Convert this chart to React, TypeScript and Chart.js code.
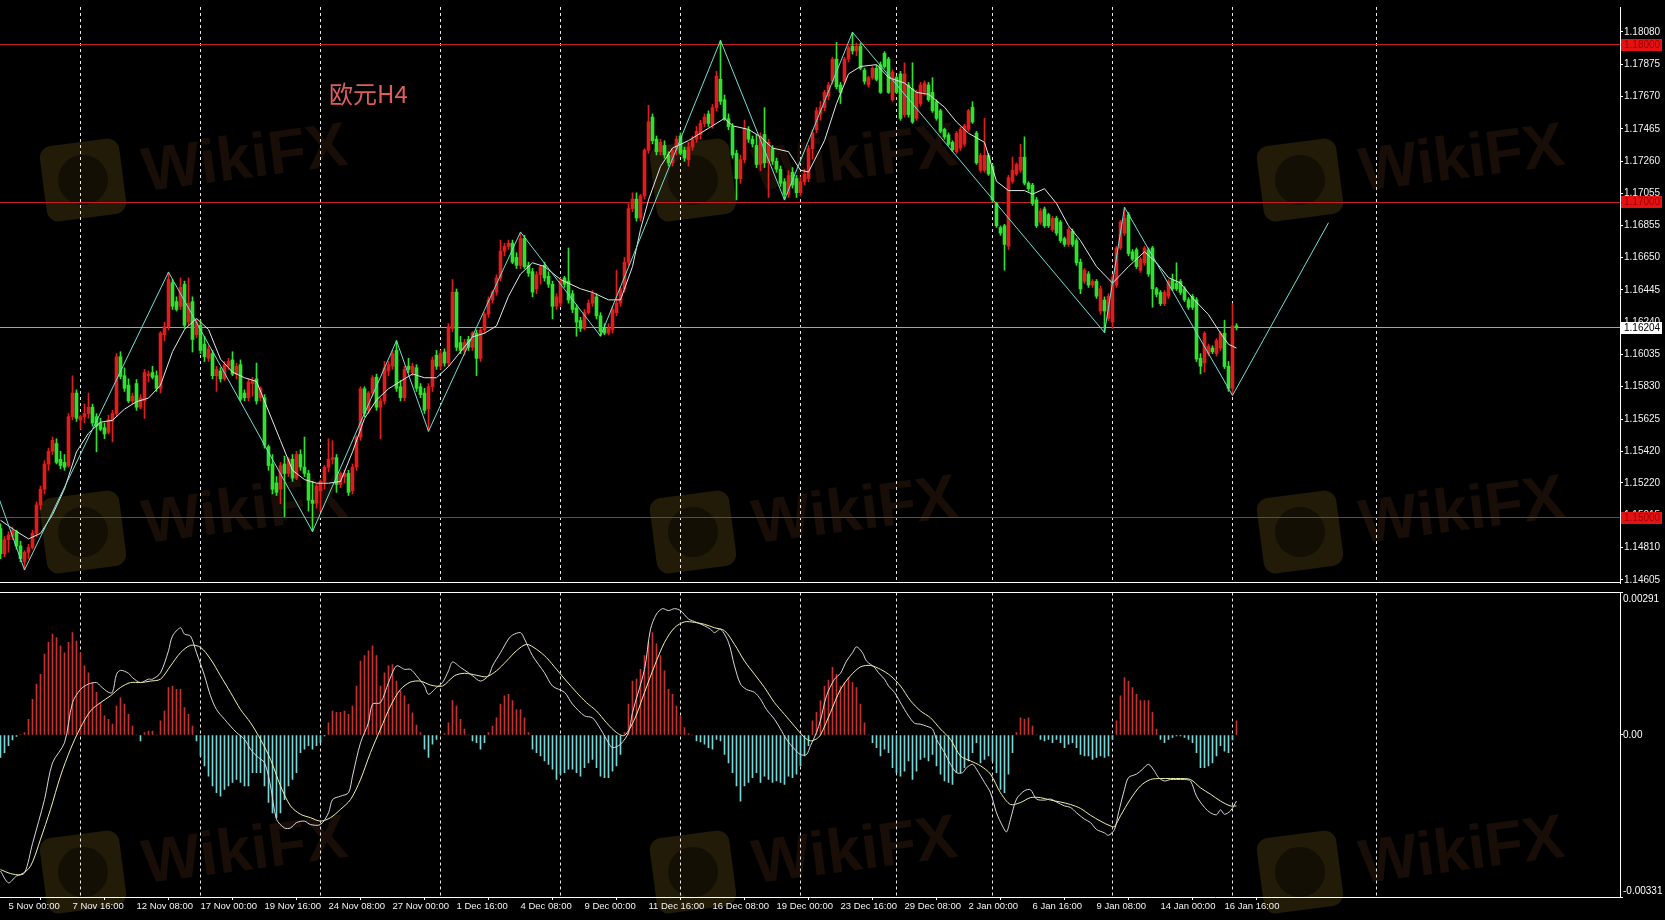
import React, { useEffect, useRef } from "react";
import { Chart, registerables } from "chart.js";

Chart.register(...registerables);

// ---------- DATA ----------
// bar index 0 = 5 Nov 00:00 (H4 bars), first candle drawn is bar -2
const FIRST_BAR = -2;

// prices are written as 1e-5 above 1.00000  (e.g. 14930 -> 1.14930)
// [open, high, low, close]
const candles: number[][] = [
  [14930,14960,14740,14770],[14770,14880,14750,14860],[14860,14910,14780,14890],[14880,14940,14860,14920],[14910,14920,14800,14820],
  [14820,14850,14720,14740],[14720,14790,14668,14780],[14780,14830,14740,14810],[14810,14920,14800,14900],[14900,15100,14880,15080],
  [15080,15200,15050,15180],[15180,15360,15150,15340],[15340,15440,15300,15420],[15420,15511,15400,15490],[15470,15500,15340,15350],
  [15370,15420,15310,15330],[15350,15400,15300,15320],[15330,15660,15320,15640],[15640,15899,15620,15790],[15790,15810,15610,15630],
  [15620,15650,15560,15640],[15640,15720,15600,15660],[15660,15790,15630,15700],[15700,15720,15580,15600],[15640,15660,15417,15580],
  [15600,15630,15550,15560],[15570,15600,15500,15530],[15540,15650,15530,15620],[15610,15680,15480,15660],[15660,16040,15640,16020],
  [16020,16052,15880,15895],[15900,15950,15800,15820],[15840,15880,15730,15740],[15740,15790,15720,15770],[15850,15876,15680,15700],
  [15700,15780,15690,15760],[15740,15940,15629,15920],[15900,15930,15860,15910],[15920,15960,15880,15890],[15900,15930,15800,15820],
  [15820,16180,15790,16170],[16160,16240,16120,16210],[16210,16557,16190,16510],[16490,16510,16320,16340],[16370,16400,16310,16320],
  [16340,16520,16320,16460],[16480,16500,16200,16220],[16240,16520,16220,16360],[16370,16400,16050,16130],[16160,16260,16140,16240],
  [16220,16250,16040,16060],[16100,16150,15990,16020],[16010,16090,15990,16070],[16040,16060,15880,15900],[15900,15960,15800,15940],
  [15930,15950,15860,15880],[15880,15990,15870,15970],[15960,16010,15940,15990],[16000,16052,15900,15910],[15910,15980,15880,15960],
  [15970,16000,15740,15750],[15790,15810,15740,15760],[15760,15880,15740,15860],[15850,15890,15770,15870],[15880,15980,15720,15740],
  [15760,15830,15740,15820],[15760,15780,15440,15460],[15450,15460,15300,15330],[15340,15400,15150,15180],[15220,15260,15140,15160],
  [15180,15350,15088,15330],[15340,15390,15006,15280],[15280,15380,15260,15370],[15370,15400,15230,15250],[15250,15420,15240,15400],
  [15400,15430,15300,15320],[15320,15511,15260,15280],[15280,15300,15041,15110],[15110,15230,14912,15090],[15090,15210,15060,15200],
  [15170,15240,15041,15230],[15230,15330,15180,15320],[15320,15500,15290,15370],[15370,15488,15340,15380],[15380,15400,15160,15210],
  [15210,15290,15190,15280],[15260,15300,15220,15280],[15280,15300,15140,15160],[15170,15340,15150,15320],[15320,15520,15300,15510],
  [15510,15830,15490,15817],[15817,15830,15640,15660],[15680,15800,15660,15790],[15790,15900,15770,15887],[15890,15910,15680,15700],
  [15700,15760,15500,15740],[15740,15990,15720,15950],[15930,15990,15900,15970],[15960,16060,15940,16040],[16060,16122,15800,15820],
  [15830,15870,15740,15760],[15760,15960,15740,15940],[15960,16010,15920,15940],[15920,15980,15900,15960],[15950,15970,15800,15820],
  [15830,15850,15760,15780],[15790,15820,15660,15680],[15690,15850,15547,15830],[15830,16020,15800,16000],[16030,16060,15940,15960],
  [15960,16060,15940,16040],[16050,16070,15960,15980],[15980,16230,15960,16210],[16200,16510,16180,16430],[16430,16450,16060,16080],
  [16110,16150,16040,16060],[16060,16130,16030,16110],[16130,16150,16060,16080],[16080,16180,16060,16170],[16170,16190,15900,16010],
  [16010,16200,15990,16190],[16190,16300,16170,16290],[16290,16400,16270,16380],[16380,16440,16360,16430],[16430,16540,16410,16520],
  [16520,16760,16500,16690],[16690,16740,16660,16720],[16720,16760,16700,16740],[16740,16760,16610,16620],[16650,16680,16580,16600],
  [16600,16811,16580,16770],[16770,16790,16580,16590],[16600,16620,16530,16550],[16560,16580,16400,16430],[16450,16560,16420,16540],
  [16540,16600,16480,16590],[16600,16620,16500,16520],[16530,16560,16460,16480],[16480,16500,16260,16340],[16340,16420,16320,16400],
  [16360,16520,16340,16500],[16520,16530,16460,16480],[16500,16710,16360,16380],[16420,16440,16300,16320],[16330,16350,16150,16240],
  [16250,16270,16180,16200],[16200,16320,16190,16300],[16300,16380,16290,16360],[16360,16440,16340,16420],[16400,16420,16260,16280],
  [16280,16300,16151,16180],[16200,16230,16160,16170],[16170,16230,16160,16200],[16190,16340,16170,16320],[16300,16569,16280,16360],
  [16360,16460,16340,16450],[16450,16650,16430,16620],[16620,16990,16600,16960],[16960,17060,16940,17020],[17020,17060,16880,16900],
  [16900,17050,16880,17040],[17040,17340,17020,17330],[17330,17615,17310,17510],[17540,17560,17370,17390],[17400,17420,17300,17320],
  [17320,17400,17300,17380],[17360,17390,17280,17300],[17300,17320,17230,17250],[17250,17340,17230,17330],[17330,17420,17300,17400],
  [17420,17440,17300,17310],[17330,17350,17260,17280],[17270,17380,17230,17350],[17350,17420,17330,17400],[17400,17480,17380,17450],
  [17430,17520,17400,17500],[17500,17560,17480,17540],[17560,17580,17480,17500],[17490,17620,17470,17600],[17600,17830,17580,17800],
  [17780,18026,17620,17640],[17650,17680,17520,17530],[17530,17560,17460,17480],[17480,17500,17280,17300],[17310,17330,17015,17150],
  [17150,17300,17120,17270],[17270,17520,17250,17470],[17460,17480,17380,17400],[17400,17420,17350,17370],[17360,17430,17220,17240],
  [17240,17440,17200,17420],[17430,17600,17220,17250],[17250,17400,17030,17380],[17340,17360,17240,17260],[17260,17280,17190,17210],
  [17210,17230,17100,17120],[17130,17150,17015,17050],[17050,17200,17030,17170],[17190,17220,17090,17110],[17150,17170,17030,17060],
  [17060,17160,17040,17130],[17130,17210,17110,17180],[17150,17360,17130,17340],[17340,17460,17274,17440],[17460,17600,17440,17580],
  [17560,17640,17520,17600],[17600,17710,17580,17697],[17673,17760,17650,17744],[17767,17920,17750,17908],[17908,18014,17720,17732],
  [17744,17760,17626,17697],[17767,17920,17750,17908],[17908,17990,17890,17979],[17990,18078,17940,17960],[17960,18010,17930,17990],
  [17990,18010,17840,17850],[17838,17850,17750,17767],[17744,17800,17730,17791],[17791,17860,17780,17850],[17850,17870,17770,17779],
  [17873,17890,17690,17697],[17944,17955,17850,17861],[17908,17920,17690,17697],[17650,17840,17640,17826],[17791,17800,17690,17697],
  [17814,17830,17520,17532],[17556,17885,17540,17814],[17744,17760,17540,17556],[17720,17885,17500,17509],[17532,17710,17520,17697],
  [17626,17760,17610,17744],[17697,17770,17680,17756],[17744,17760,17640,17650],[17697,17790,17570,17580],[17638,17650,17520,17532],
  [17580,17590,17440,17450],[17462,17470,17400,17415],[17427,17440,17360,17368],[17380,17390,17320,17333],[17321,17450,17310,17438],
  [17344,17475,17330,17462],[17368,17495,17355,17485],[17462,17590,17450,17580],[17603,17638,17500,17509],[17438,17450,17240,17250],
  [17203,17310,17190,17297],[17203,17532,17190,17297],[17297,17310,17170,17180],[17227,17240,17000,17015],[16992,17000,16840,16851],
  [16839,16850,16790,16804],[16851,16860,16569,16733],[16722,17170,16700,17156],[17133,17286,17120,17203],[17180,17250,17170,17239],
  [17203,17368,17190,17286],[17286,17415,17110,17121],[17121,17130,17070,17086],[17109,17120,16980,16992],[17015,17030,16840,16851],
  [16874,16960,16860,16945],[16957,16970,16840,16851],[16921,16930,16840,16851],[16827,16910,16815,16898],[16898,16910,16790,16804],
  [16874,16885,16745,16757],[16769,16780,16720,16733],[16733,16840,16720,16827],[16816,16830,16720,16733],[16757,16770,16600,16616],
  [16620,16640,16420,16450],[16498,16580,16485,16569],[16545,16560,16460,16475],[16475,16510,16460,16498],[16498,16510,16390,16404],
  [16310,16470,16290,16451],[16380,16400,16174,16310],[16263,16420,16250,16404],[16240,16540,16200,16522],[16475,16720,16460,16710],
  [16710,16885,16700,16874],[16804,16968,16790,16898],[16921,16935,16660,16675],[16686,16700,16630,16639],[16698,16710,16580,16592],
  [16569,16650,16555,16639],[16616,16720,16600,16710],[16698,16710,16530,16545],[16710,16720,16334,16451],[16451,16460,16400,16416],
  [16428,16440,16345,16357],[16357,16440,16345,16428],[16404,16510,16390,16498],[16510,16545,16440,16451],[16486,16616,16440,16451],
  [16498,16510,16415,16428],[16451,16465,16370,16381],[16381,16395,16320,16334],[16404,16415,16320,16334],[16381,16395,15990,16005],
  [16010,16040,15911,15960],[15981,16180,15923,16169],[16040,16100,16025,16087],[16075,16090,16040,16052],[16040,16135,16025,16122],
  [16075,16180,16060,16169],[16169,16252,15945,15958],[15960,15990,15800,15820],[15820,16357,15775,16216],[16216,16230,16190,16204],
];

// moving average line: [bar, price(1e-5 above 1)]
const maPoints: number[][] = [
  [-2,14983],[2,14912],[5,14865],[8,14900],[11,15018],[14,15182],[17,15417],[20,15535],[23,15605],[26,15617],
  [29,15688],[32,15735],[35,15758],[38,15840],[41,16052],[44,16193],[47,16263],[50,16193],[53,16005],[56,15923],
  [59,15887],[62,15864],[65,15676],[68,15488],[71,15300],[74,15241],[77,15218],[80,15218],[83,15229],[86,15417],
  [89,15629],[92,15746],[95,15817],[98,15864],[101,15911],[104,15887],[107,15887],[110,15958],[113,16052],[116,16146],
  [119,16169],[122,16216],[125,16404],[128,16545],[131,16616],[134,16592],[138,16510],[143,16451],[146,16428],[150,16381],
  [153,16381],[156,16592],[158,16827],[160,17015],[163,17227],[166,17344],[170,17391],[173,17438],[176,17485],[179,17532],
  [181,17485],[185,17462],[188,17415],[191,17344],[195,17321],[198,17203],[200,17192],[204,17391],[207,17626],[210,17814],
  [213,17861],[217,17873],[220,17791],[224,17756],[227,17697],[230,17685],[234,17603],[237,17509],[240,17438],[244,17380],
  [247,17133],[250,17074],[254,17074],[256,17051],[259,17086],[262,16992],[265,16851],[268,16757],[272,16592],[276,16487],
  [280,16592],[284,16686],[287,16616],[290,16522],[293,16487],[296,16393],[300,16287],[303,16169],[305,16099],[307,16075],
];

// zigzag vertices (last one is the projection)
const zigzagBars = [-8, 4, 40, 76, 97, 105, 128, 148, 178, 194, 211, 274, 279, 306, 330];
const zigzagPrices = [15520, 14668, 16557, 14912, 16122, 15547, 16811, 16151, 18026, 17015, 18078, 16174, 16968, 15775, 16870];

// horizontal levels
const levelLines = [1.18, 1.17, 1.15];
const bidPrice = 1.16204;

// right axis price labels
const priceTicks = [1.1808, 1.17875, 1.1767, 1.17465, 1.1726, 1.17055, 1.16855, 1.1665, 1.16445, 1.1624,
  1.16035, 1.1583, 1.15625, 1.1542, 1.1522, 1.15015, 1.1481, 1.14605];

// time axis labels, one every 16 bars starting at bar 0
const dateLabels = ["5 Nov 00:00", "7 Nov 16:00", "12 Nov 08:00", "17 Nov 00:00", "19 Nov 16:00", "24 Nov 08:00",
  "27 Nov 00:00", "1 Dec 16:00", "4 Dec 08:00", "9 Dec 00:00", "11 Dec 16:00", "16 Dec 08:00", "19 Dec 00:00",
  "23 Dec 16:00", "29 Dec 08:00", "2 Jan 00:00", "6 Jan 16:00", "9 Jan 08:00", "14 Jan 00:00", "16 Jan 16:00"];
const LABEL_STEP = 16;

// weekly (Monday 00:00) dotted separators, by bar
const weekGridBars = [18, 48, 78, 108, 138, 168, 198, 222, 246, 276, 306, 342];

// MACD histogram, 1e-5 units, from bar -2
const histValues = [
  -46,-36,-22,-10,-3,1,5,32,73,104,
  124,165,189,206,199,182,168,189,209,192,
  168,141,127,107,87,66,39,32,22,59,
  76,63,42,18,0,-12,5,8,8,0,
  29,49,97,100,93,93,56,42,18,-12,
  -43,-63,-84,-104,-118,-125,-111,-104,-97,-91,
  -97,-104,-104,-77,-77,-77,-104,-138,-159,-169,
  -159,-132,-104,-91,-77,-36,-29,-22,-29,-22,
  -16,-2,25,49,46,46,49,42,59,100,
  151,162,172,182,162,100,127,141,144,110,
  90,80,63,45,20,5,-29,-46,-19,-9,
  0,3,25,70,59,32,12,0,-12,-16,
  -29,-16,5,18,35,63,80,83,70,52,
  52,35,5,-29,-36,-43,-53,-60,-70,-91,
  -80,-77,-70,-70,-77,-84,-67,-57,-50,-67,
  -84,-87,-87,-74,-63,-40,5,63,110,114,
  134,162,189,209,186,162,131,93,83,59,
  39,15,3,0,-12,-14,-19,-26,-29,-9,
  -12,-40,-57,-77,-104,-135,-104,-97,-87,-77,
  -97,-84,-91,-97,-94,-97,-101,-84,-87,-80,
  -63,-43,-22,29,46,70,100,112,138,124,
  100,107,117,107,97,63,25,0,-16,-26,
  -43,-29,-36,-67,-77,-84,-74,-53,-91,-74,
  -50,-46,-53,-40,-63,-80,-94,-97,-101,-77,
  -77,-67,-53,-36,-16,-57,-50,-43,-53,-77,
  -111,-118,-80,-36,5,35,32,35,18,0,
  -9,-12,-9,-16,-9,-16,-26,-19,-16,-26,
  -40,-43,-43,-50,-46,-43,-46,-43,-9,29,
  80,117,110,97,83,70,70,70,46,12,
  -9,-16,-9,-5,-2,-2,-5,-9,-16,-36,
  -67,-67,-63,-57,-43,-22,-33,-36,-10,29,
];

// MACD main line [bar, value 1e-5]
const macdPoints: number[][] = [
  [-2,-278],[0,-302],[2,-288],[4,-282],[6,-222],[9,-132],[11,-57],[14,-16],[16,66],[18,93],[20,104],[22,107],[23,100],[25,87],[26,87],
  [27,124],[28,132],[30,126],[31,117],[33,107],[35,114],[36,114],[38,127],[40,172],[41,202],[43,219],[44,206],[45.5,202],[47,168],
  [49,121],[50.5,80],[52,52],[54,32],[55.5,18],[57,5],[59,-9],[60.5,-29],[62,-43],[64,-57],[65.5,-104],[67,-172],[69,-190],[70.5,-190],
  [72,-179],[74,-176],[75.5,-183],[78,-183],[80,-159],[81,-132],[83,-125],[85,-118],[86,-84],[88,-16],[90,25],[91,63],[93,66],[95,107],
  [97,141],[99,134],[100.5,134],[102,121],[104,100],[105,83],[107,97],[108.5,107],[110,131],[111,149],[113,138],[115,127],[116,121],
  [118,110],[120,121],[121,141],[123,168],[125,196],[126,204],[128,209],[129,196],[131,162],[134,127],[136,100],[139,87],[141,63],
  [144,39],[146,35],[148,12],[150,-16],[151,-26],[153,-19],[155,5],[156,46],[159,134],[160.5,216],[162,247],[163.5,258],[165,254],
  [166.5,258],[168,254],[170,237],[172,230],[174,223],[175.5,216],[176.5,209],[178,216],[180,189],[181.5,141],[183,104],[184.5,93],
  [186.5,87],[188,73],[189.5,52],[191.5,32],[193,12],[194.5,-9],[196.5,-29],[198,-40],[199.5,-40],[200.5,-22],[202,5],[203,30],
  [204.5,80],[206.5,114],[208,126],[209.5,151],[211,168],[212,180],[213.5,168],[214.5,151],[216.5,138],[217.5,127],[219,114],[220,100],
  [221.5,87],[222.5,73],[224,52],[225,39],[226.5,24],[228,22],[229.5,18],[231,12],[232,-9],[234,-36],[235.5,-60],[237,-77],[238.5,-77],
  [239.5,-67],[241,-60],[242,-70],[244,-97],[245.5,-118],[247,-159],[248.5,-186],[249.5,-198],[250.5,-172],[252,-131],[254,-114],
  [255.5,-112],[257,-131],[259,-133],[260.5,-131],[262,-137],[264,-145],[265.5,-148],[267,-159],[269,-172],[270.5,-179],[272,-193],
  [274,-200],[275,-205],[276.5,-193],[277.5,-159],[279,-111],[280,-87],[282,-80],[283.5,-70],[285,-60],[286.5,-74],[287.5,-87],
  [289,-94],[290.5,-91],[292,-91],[294,-91],[295.5,-94],[297,-125],[299,-148],[300.5,-159],[302,-163],[303,-153],[304,-162],
  [305.5,-155],[307,-135],
];

// MACD signal line [bar, value 1e-5]
const signalPoints: number[][] = [
  [-2,-275],[0.5,-283],[3,-285],[5.5,-268],[8,-213],[10.5,-152],[13,-84],[15.5,-29],[18,15],[20.5,49],[23,66],[25.5,80],[28,97],
  [30.5,107],[33,107],[35.5,110],[38,114],[40.5,141],[43,168],[45.5,183],[48,179],[50.5,155],[53,121],[55.5,87],[58,52],[60.5,25],
  [63,-9],[65.5,-50],[68,-104],[70.5,-145],[73,-162],[75.5,-169],[78,-176],[80.5,-169],[83,-152],[85.5,-132],[88,-91],[90.5,-36],
  [93,12],[95.5,59],[98,93],[100.5,108],[103,110],[105.5,102],[108.5,100],[111.5,121],[114,126],[117,122],[119.5,119],[122,131],
  [124.5,151],[127,172],[129.5,185],[132,175],[134.5,158],[137,134],[139.5,110],[142,87],[144.5,66],[147,49],[149.5,25],[152,5],
  [154,-1],[156.5,32],[159,87],[161.5,141],[164,189],[166.5,219],[169,231],[171.5,230],[174,226],[176.5,219],[179,213],[181.5,185],
  [184,151],[186.5,124],[189,97],[191.5,66],[194,42],[196.5,18],[199,-5],[200.5,-12],[202,-8],[203,0],[205.5,46],[208,93],[210.5,121],
  [213,139],[215.5,142],[218,134],[220.5,121],[223,100],[225.5,70],[228,49],[230.5,35],[233,12],[235.5,-9],[238,-43],[240.5,-53],
  [243,-63],[245.5,-80],[248,-118],[250.5,-142],[253,-138],[255.5,-128],[258,-128],[260.5,-133],[263,-137],[265.5,-142],[268,-150],
  [270.5,-164],[273,-176],[275.5,-186],[276.5,-187],[278,-165],[280.5,-131],[283,-104],[285.5,-91],[288,-89],[290.5,-89],[293,-89],
  [295.5,-91],[298,-108],[300.5,-121],[303,-135],[305.5,-145],[307,-145],
];

const macdTicks = [0.00291, 0, -0.00331];

// ---------- LAYOUT / STYLE ----------
const W = 1665;
const MAIN_H = 590;
const MACD_H = 330;
const AXIS_W = 45;
const X_MIN = -2.125;
const X_MAX = X_MIN + (W - AXIS_W) / 4;
const Y_MIN = 1.145851;
const Y_MAX = 1.182384;
const BULL = "#e01c1c";
const BEAR = "#2ee22e";
const FONT = "Liberation Sans";

const px = (v: number) => 1 + v / 100000;

const watermarkSpots = [[83, 180], [693, 180], [1300, 180], [83, 532], [693, 532], [1300, 532], [83, 872], [693, 872], [1300, 872]];

function drawWatermarks(ctx: CanvasRenderingContext2D) {
  ctx.clearRect(0, 0, W, 920);
  for (const [cx, cy] of watermarkSpots) {
    ctx.save();
    ctx.translate(cx, cy);
    ctx.rotate(-0.13);
    ctx.fillStyle = "rgb(33,27,8)";
    ctx.beginPath();
    (ctx as any).roundRect(-40, -38, 80, 76, 12);
    ctx.fill();
    ctx.fillStyle = "rgb(20,15,5)";
    ctx.beginPath();
    ctx.arc(0, 0, 25, 0, Math.PI * 2);
    ctx.fill();
    ctx.fillStyle = "rgb(25,13,7)";
    ctx.font = `bold 62px "${FONT}"`;
    ctx.textBaseline = "middle";
    ctx.fillText("WikiFX", 60, 2);
    ctx.restore();
  }
}

function drawWeekGrid(chart: any) {
  const { ctx, chartArea: a, scales } = chart;
  ctx.save();
  ctx.strokeStyle = "rgba(255,255,255,0.9)";
  ctx.lineWidth = 1;
  ctx.setLineDash([3, 3]);
  for (const b of weekGridBars) {
    const x = scales.x.getPixelForValue(b);
    if (x < a.left || x > a.right) continue;
    ctx.beginPath();
    ctx.moveTo(x, a.top);
    ctx.lineTo(x, a.bottom);
    ctx.stroke();
  }
  ctx.restore();
}

const mainDecor = {
  id: "mainDecor",
  beforeDatasetsDraw(chart: any) {
    drawWeekGrid(chart);
    const { ctx, chartArea: a, scales } = chart;
    ctx.save();
    ctx.lineWidth = 1;
    for (const v of levelLines) {
      const y = Math.round(scales.y.getPixelForValue(v) - 0.5) + 0.5;
      ctx.strokeStyle = "#c42020";
      ctx.beginPath();
      ctx.moveTo(a.left, y);
      ctx.lineTo(a.right, y);
      ctx.stroke();
    }
    const yb = Math.round(scales.y.getPixelForValue(bidPrice) - 0.5) + 0.5;
    ctx.strokeStyle = "#a4a4a4";
    ctx.beginPath();
    ctx.moveTo(a.left, yb);
    ctx.lineTo(a.right, yb);
    ctx.stroke();
    ctx.restore();
  },
  afterDraw(chart: any) {
    const { ctx, chartArea: a, scales } = chart;
    ctx.save();
    ctx.strokeStyle = "#ffffff";
    ctx.lineWidth = 1;
    ctx.beginPath();
    ctx.moveTo(a.left, a.bottom - 0.5);
    ctx.lineTo(a.right, a.bottom - 0.5);
    ctx.stroke();
    ctx.font = `10px "${FONT}"`;
    ctx.textBaseline = "middle";
    ctx.textAlign = "left";
    for (const v of levelLines) {
      const y = Math.round(scales.y.getPixelForValue(v));
      ctx.fillStyle = "#e41212";
      ctx.fillRect(a.right + 1, y - 6, 41, 12);
      ctx.fillStyle = "#9c0000";
      ctx.fillText(v.toFixed(5), a.right + 4, y + 0.5);
    }
    const yb = Math.round(scales.y.getPixelForValue(bidPrice));
    ctx.fillStyle = "#ffffff";
    ctx.fillRect(a.right + 1, yb - 6, 41, 12);
    ctx.fillStyle = "#000000";
    ctx.fillText(bidPrice.toFixed(5), a.right + 4, yb + 0.5);
    ctx.restore();
  },
};

const macdDecor = {
  id: "macdDecor",
  beforeDatasetsDraw(chart: any) {
    drawWeekGrid(chart);
  },
  afterDraw(chart: any) {
    const { ctx, chartArea: a, scales } = chart;
    ctx.save();
    ctx.strokeStyle = "#ffffff";
    ctx.lineWidth = 1;
    ctx.beginPath();
    ctx.moveTo(a.left, Math.floor(a.top) + 0.5);
    ctx.lineTo(a.right, Math.floor(a.top) + 0.5);
    ctx.stroke();
    ctx.fillStyle = "#ffffff";
    ctx.font = `10px "${FONT}"`;
    ctx.textBaseline = "middle";
    ctx.textAlign = "left";
    for (const v of macdTicks) {
      let y = scales.y.getPixelForValue(v);
      y = Math.max(a.top + 6.5, Math.min(a.bottom - 6, y));
      ctx.fillText(v === 0 ? "0.00" : v.toFixed(5), a.right + 3, y);
    }
    ctx.restore();
  },
};

export default function App() {
  const mainRef = useRef<HTMLCanvasElement>(null);
  const macdRef = useRef<HTMLCanvasElement>(null);
  const wmRef = useRef<HTMLCanvasElement>(null);

  useEffect(() => {
    document.body.style.margin = "0";
    document.body.style.background = "#000";
    const wctx = wmRef.current!.getContext("2d")!;
    drawWatermarks(wctx);

    const bodies = candles.map((c, i) => ({ x: FIRST_BAR + i, y: [px(c[0]), px(c[3])] }));
    const wicks = candles.map((c, i) => ({ x: FIRST_BAR + i, y: [px(c[2]), px(c[1])] }));
    const colors = candles.map((c) => (c[3] >= c[0] ? BULL : BEAR));

    const main = new Chart(mainRef.current!, {
      type: "bar",
      data: {
        datasets: [
          { type: "bar", data: wicks as any, backgroundColor: colors, barThickness: 1, grouped: false, order: 4 } as any,
          { type: "bar", data: bodies as any, backgroundColor: colors, barThickness: 3, minBarLength: 1, grouped: false, order: 3 } as any,
          {
            type: "line",
            data: maPoints.map((p) => ({ x: p[0], y: px(p[1]) })),
            borderColor: "#dfe8e8",
            borderWidth: 1,
            pointRadius: 0,
            tension: 0,
            order: 2,
          } as any,
          {
            type: "line",
            data: zigzagBars.map((b, i) => ({ x: b, y: px(zigzagPrices[i]) })),
            borderColor: "#6fe0d4",
            borderWidth: 1,
            pointRadius: 0,
            tension: 0,
            order: 1,
          } as any,
        ],
      },
      options: {
        responsive: false,
        animation: false,
        events: [],
        layout: { padding: 0 },
        plugins: { legend: { display: false }, tooltip: { enabled: false } },
        scales: {
          x: { type: "linear", min: X_MIN, max: X_MAX, display: false, offset: false },
          y: {
            type: "linear",
            position: "right",
            min: Y_MIN,
            max: Y_MAX,
            afterFit: (s: any) => { s.width = AXIS_W; },
            afterBuildTicks: (s: any) => { s.ticks = priceTicks.map((v) => ({ value: v })); },
            ticks: {
              color: "#f2f2f2",
              font: { family: FONT, size: 10 },
              padding: 1,
              callback: (v: any) => Number(v).toFixed(5),
            },
            grid: { drawOnChartArea: false, drawTicks: true, tickLength: 3, color: "#ffffff" },
            border: { display: true, color: "#ffffff", width: 1 },
          },
        },
      } as any,
      plugins: [mainDecor],
    });

    const macd = new Chart(macdRef.current!, {
      type: "bar",
      data: {
        datasets: [
          {
            type: "bar",
            data: histValues.map((v, i) => ({ x: FIRST_BAR + i, y: v / 100000 })) as any,
            backgroundColor: histValues.map((v) => (v >= 0 ? "#c83030" : "#78d6d6")),
            barThickness: 1,
            grouped: false,
            order: 3,
          } as any,
          {
            type: "line",
            data: signalPoints.map((p) => ({ x: p[0], y: p[1] / 100000 })),
            borderColor: "#eeeea6",
            borderWidth: 1,
            pointRadius: 0,
            tension: 0.3,
            order: 2,
          } as any,
          {
            type: "line",
            data: macdPoints.map((p) => ({ x: p[0], y: p[1] / 100000 })),
            borderColor: "#d6d6d6",
            borderWidth: 1,
            pointRadius: 0,
            tension: 0.3,
            order: 1,
          } as any,
        ],
      },
      options: {
        responsive: false,
        animation: false,
        events: [],
        layout: { padding: { top: 2.5, left: 0, right: 0, bottom: 0 } },
        plugins: { legend: { display: false }, tooltip: { enabled: false } },
        scales: {
          x: {
            type: "linear",
            min: X_MIN,
            max: X_MAX,
            offset: false,
            afterFit: (s: any) => { s.height = 23; },
            afterBuildTicks: (s: any) => { s.ticks = dateLabels.map((_, i) => ({ value: i * LABEL_STEP })); },
            ticks: {
              color: "#f2f2f2",
              font: { family: FONT, size: 9.5 },
              align: "start",
              maxRotation: 0,
              minRotation: 0,
              autoSkip: false,
              padding: 1,
              callback: (_v: any, i: number) => dateLabels[i],
            },
            grid: { drawOnChartArea: false, drawTicks: true, tickLength: 3, color: "#ffffff" },
            border: { display: true, color: "#ffffff", width: 1 },
          },
          y: {
            type: "linear",
            position: "right",
            min: -0.00331,
            max: 0.00291,
            afterFit: (s: any) => { s.width = AXIS_W; },
            afterBuildTicks: (s: any) => { s.ticks = macdTicks.map((v) => ({ value: v })); },
            ticks: { display: false },
            grid: { drawOnChartArea: false, drawTicks: true, tickLength: 3, color: "#ffffff" },
            border: { display: true, color: "#ffffff", width: 1 },
          },
        },
      } as any,
      plugins: [macdDecor],
    });

    return () => {
      main.destroy();
      macd.destroy();
    };
  }, []);

  return (
    <div style={{ position: "relative", width: W, height: 920, background: "#000", overflow: "hidden" }}>
      <canvas ref={wmRef} width={W} height={920} style={{ position: "absolute", left: 0, top: 0 }} />
      <canvas ref={mainRef} width={W} height={MAIN_H} style={{ position: "absolute", left: 0, top: 0, width: W, height: MAIN_H }} />
      <canvas ref={macdRef} width={W} height={MACD_H} style={{ position: "absolute", left: 0, top: MAIN_H, width: W, height: MACD_H }} />
      <div
        style={{
          position: "absolute",
          left: 329,
          top: 76,
          fontFamily: '"Noto Sans CJK SC", sans-serif',
          fontSize: 24,
          lineHeight: "34px",
          color: "#dc5e5e",
          whiteSpace: "nowrap",
        }}
      >
        欧元H4
      </div>
    </div>
  );
}
